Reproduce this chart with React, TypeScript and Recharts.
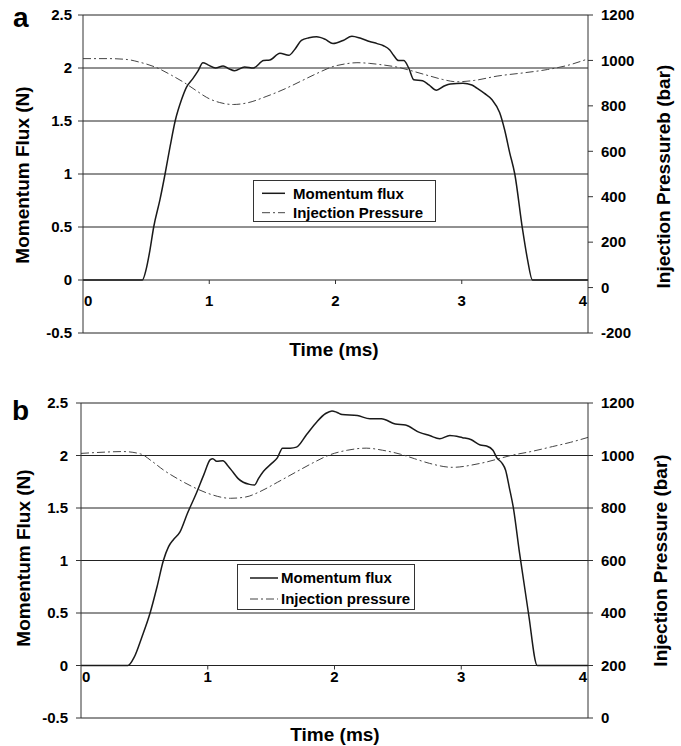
import React from 'react';
import { ComposedChart, Line, XAxis, YAxis, CartesianGrid, Legend } from 'recharts';

// ---------- data ----------
const timeTicks = [0, 1, 2, 3, 4];
const fluxTicks = [-0.5, 0, 0.5, 1, 1.5, 2, 2.5];
const pressureTicksA = [-200, 0, 200, 400, 600, 800, 1000, 1200];
const pressureTicksB = [0, 200, 400, 600, 800, 1000, 1200];

const fluxTimeA = [0, 0.47, 0.5, 0.53, 0.56, 0.61, 0.65, 0.69, 0.73, 0.78, 0.82, 0.87, 0.91, 0.95, 0.99, 1.05, 1.11, 1.16, 1.2, 1.28, 1.35, 1.43, 1.48, 1.56, 1.63, 1.68, 1.73, 1.79, 1.85, 1.92, 1.98, 2.06, 2.13, 2.2, 2.27, 2.33, 2.38, 2.43, 2.46, 2.5, 2.54, 2.58, 2.62, 2.69, 2.74, 2.8, 2.86, 2.91, 3.01, 3.08, 3.12, 3.18, 3.24, 3.3, 3.34, 3.38, 3.42, 3.48, 3.52, 3.56, 4];
const fluxValuesA = [0, 0, 0.1, 0.28, 0.5, 0.76, 1.0, 1.26, 1.5, 1.7, 1.82, 1.9, 1.97, 2.05, 2.03, 2.0, 2.02, 1.99, 1.975, 2.01, 2.0, 2.07, 2.075, 2.14, 2.12, 2.18, 2.26, 2.285, 2.295, 2.27, 2.23, 2.26, 2.3, 2.28, 2.25, 2.23, 2.21, 2.17, 2.12, 2.07, 2.07, 2.0, 1.89, 1.88, 1.84, 1.79, 1.83, 1.85, 1.855, 1.84, 1.81, 1.76, 1.7, 1.58, 1.415, 1.2, 1.0, 0.49, 0.2, 0, 0];

const pressureTimeA = [0, 0.2, 0.35, 0.45, 0.58, 0.7, 0.8, 0.9, 0.98, 1.08, 1.19, 1.3, 1.45, 1.6, 1.72, 1.85, 1.98, 2.08, 2.17, 2.27, 2.35, 2.51, 2.63, 2.75, 2.85, 2.96, 3.1, 3.28, 3.5, 3.68, 3.85, 4.0];
const pressureValuesA = [1008, 1008, 1004, 992, 969, 935, 903, 866, 837, 815, 806, 813, 841, 875, 907, 942, 973, 985, 990, 987, 982, 968, 950, 931, 916, 906, 912, 931, 946, 960, 980, 1007];

const fluxTimeB = [0, 0.37, 0.42, 0.48, 0.545, 0.6, 0.65, 0.69, 0.73, 0.78, 0.84, 0.91, 0.97, 1.02, 1.04, 1.07, 1.12, 1.16, 1.2, 1.24, 1.28, 1.33, 1.37, 1.4, 1.44, 1.5, 1.55, 1.59, 1.65, 1.7, 1.78, 1.86, 1.93, 1.98, 2.02, 2.06, 2.18, 2.28, 2.37, 2.48, 2.56, 2.67, 2.75, 2.83, 2.91, 3.01, 3.08, 3.15, 3.2, 3.25, 3.28, 3.32, 3.35, 3.38, 3.41, 3.46, 3.53, 3.6, 4];
const fluxValuesB = [0, 0, 0.08, 0.27, 0.5, 0.75, 1.0, 1.13, 1.2, 1.27, 1.45, 1.64, 1.82, 1.96, 1.97, 1.945, 1.95, 1.9, 1.84, 1.78, 1.745, 1.725, 1.72, 1.78, 1.85, 1.92, 1.98, 2.07, 2.07, 2.08, 2.2, 2.32, 2.4, 2.425, 2.41, 2.39, 2.38, 2.35, 2.35, 2.3, 2.29, 2.22, 2.19, 2.16, 2.19, 2.17, 2.15, 2.1, 2.09, 2.05, 1.98, 1.93, 1.86, 1.69, 1.51, 1.07, 0.5, 0, 0];

const pressureTimeB = [0, 0.15, 0.33, 0.47, 0.56, 0.65, 0.76, 0.88, 1.0, 1.18, 1.3, 1.41, 1.55, 1.7, 1.83, 1.96, 2.1, 2.25, 2.38, 2.52, 2.63, 2.75, 2.93, 3.15, 3.41, 3.55, 3.72, 3.86, 4.0];
const pressureValuesB = [1008, 1012, 1015, 1006, 978, 945, 912, 881, 856, 837, 842, 862, 898, 938, 972, 1002, 1020, 1028, 1020, 1005, 988, 970, 955, 970, 1002, 1015, 1034, 1050, 1069];

const zip = (t: number[], v: number[], key: string) => t.map((x, i) => ({ t: x, [key]: v[i] }));

// ---------- styles ----------
const FONT = '"Liberation Sans", Arial, Helvetica, sans-serif';
const tickCss: React.CSSProperties = { fontSize: 15, fontWeight: 700, fontFamily: FONT };
const tickStyle = { fontSize: 15, fontWeight: 700, fill: '#000', fontFamily: FONT, style: tickCss };
const titleStyle: React.CSSProperties = { fontSize: 19, fontWeight: 700, fontFamily: FONT };
const AXIS = '#333';

const makeTimeTick = (zeroY: number, labelDy: number) => (props: any) => {
  const { x, payload } = props;
  const v = payload.value;
  const anchor = v === 0 ? 'start' : v === 4 ? 'end' : 'middle';
  const tx = v === 0 ? x + 1 : v === 4 ? x - 1 : x;
  return (
    <g>
      {v > 0 && v < 4 && <line x1={x} x2={x} y1={zeroY} y2={zeroY + 4} stroke={AXIS} strokeWidth={1} />}
      <text x={tx} y={zeroY + labelDy} textAnchor={anchor} fill="#000" style={tickCss}>{v}</text>
    </g>
  );
};

const legendText: React.CSSProperties = { fontSize: 15, fontWeight: 700, fontFamily: FONT };

const LegendBox = ({ w, h, rows, x1, x2, tx, names }: any) => (
  <svg width={w} height={h} style={{ display: 'block' }}>
    <rect x={0.5} y={0.5} width={w - 1} height={h - 1} fill="#fff" stroke={AXIS} strokeWidth={1} />
    <line x1={x1} x2={x2} y1={rows[0]} y2={rows[0]} stroke="#1a1a1a" strokeWidth={1.5} />
    <line x1={x1} x2={x2} y1={rows[1]} y2={rows[1]} stroke="#444" strokeWidth={1} strokeDasharray="8 3 2 3" />
    <text x={tx} y={rows[0] + 5.4} fill="#000" style={legendText}>{names[0]}</text>
    <text x={tx} y={rows[1] + 5.4} fill="#000" style={legendText}>{names[1]}</text>
  </svg>
);

type PanelProps = {
  letter: string;
  height: number;
  top: number;
  leftW: number;
  xAxisH: number;
  fluxData: any[];
  pressureData: any[];
  pDomain: [number, number];
  pTicks: number[];
  pressureName: string;
  rightTitle: string;
  legend: any;
  labelDy: number;
  titles: { left: [number, number]; right: [number, number]; time: [number, number]; letterPos: [number, number] };
  leftTickMargin: number;
};

const Panel = (p: PanelProps) => {
  const plotH = p.height - p.top - p.xAxisH;
  const zeroY = p.top + (plotH * 2.5) / 3;
  return (
    <ComposedChart width={681} height={p.height} margin={{ top: p.top, right: 0, bottom: 0, left: 0 }}>
      <CartesianGrid vertical={false} horizontal={true} stroke="#222" strokeWidth={1} />
      <XAxis
        type="number"
        dataKey="t"
        domain={[0, 4]}
        ticks={timeTicks}
        allowDataOverflow
        axisLine={false}
        tickLine={false}
        height={p.xAxisH}
        tick={makeTimeTick(zeroY, p.labelDy)}
        interval={0}
      />
      <YAxis
        type="number"
        domain={[-0.5, 2.5]}
        ticks={fluxTicks}
        width={p.leftW}
        axisLine={{ stroke: AXIS, strokeWidth: 1 }}
        tickLine={{ stroke: AXIS, strokeWidth: 1 }}
        tickSize={5}
        tickMargin={p.leftTickMargin}
        tick={tickStyle}
        interval={0}
      />
      <YAxis
        yAxisId="right"
        orientation="right"
        type="number"
        domain={p.pDomain}
        ticks={p.pTicks}
        width={93}
        axisLine={{ stroke: AXIS, strokeWidth: 1 }}
        tickLine={{ stroke: AXIS, strokeWidth: 1 }}
        tickSize={5}
        tickMargin={8}
        tick={tickStyle}
        interval={0}
      />
      <Line
        data={p.pressureData}
        dataKey="pressure"
        name={p.pressureName}
        yAxisId="right"
        type="monotone"
        stroke="#444"
        strokeWidth={1}
        strokeDasharray="8 3 2 3"
        dot={false}
        activeDot={false}
        isAnimationActive={false}
      />
      <Line
        data={p.fluxData}
        dataKey="flux"
        name="Momentum flux"
        type="monotone"
        stroke="#1a1a1a"
        strokeWidth={1.5}
        dot={false}
        activeDot={false}
        isAnimationActive={false}
      />
      <Legend
        layout="vertical"
        align="center"
        verticalAlign="middle"
        wrapperStyle={{ position: 'absolute', left: p.legend.left, top: p.legend.top, width: p.legend.w, height: p.legend.h }}
        content={() => <LegendBox {...p.legend} names={['Momentum flux', p.pressureName]} />}
      />
      <text x={p.titles.letterPos[0]} y={p.titles.letterPos[1]} fill="#000" style={{ fontSize: 28, fontWeight: 700, fontFamily: FONT }}>{p.letter}</text>
      <text
        x={p.titles.left[0]}
        y={p.titles.left[1]}
        transform={`rotate(-90, ${p.titles.left[0]}, ${p.titles.left[1]})`}
        textAnchor="middle"
        dominantBaseline="central"
        style={titleStyle}
        fill="#000"
      >
        Momentum Flux (N)
      </text>
      <text
        x={p.titles.right[0]}
        y={p.titles.right[1]}
        transform={`rotate(-90, ${p.titles.right[0]}, ${p.titles.right[1]})`}
        textAnchor="middle"
        dominantBaseline="central"
        style={titleStyle}
        fill="#000"
      >
        {p.rightTitle}
      </text>
      <text x={p.titles.time[0]} y={p.titles.time[1]} textAnchor="middle" dominantBaseline="central" style={titleStyle} fill="#000">
        Time (ms)
      </text>
    </ComposedChart>
  );
};

export default function App() {
  const fluxA = zip(fluxTimeA, fluxValuesA, 'flux');
  const presA = zip(pressureTimeA, pressureValuesA, 'pressure');
  const fluxB = zip(fluxTimeB, fluxValuesB, 'flux');
  const presB = zip(pressureTimeB, pressureValuesB, 'pressure');
  return (
    <div style={{ position: 'absolute', left: 0, top: 0, width: 681, height: 746, background: '#fff', fontFamily: FONT, fontWeight: 700 }}>
      <div style={{ position: 'absolute', left: 0, top: 0 }}>
        <Panel
          letter="a"
          height={370}
          top={15}
          leftW={83}
          xAxisH={37}
          fluxData={fluxA}
          pressureData={presA}
          pDomain={[-200, 1200]}
          pTicks={pressureTicksA}
          pressureName="Injection Pressure"
          rightTitle="Injection Pressureb (bar)"
          legend={{ left: 253, top: 180, w: 183, h: 42, rows: [13.3, 32.7], x1: 9, x2: 32, tx: 40 }}
          labelDy={26}
          leftTickMargin={6}
          titles={{ left: [22, 175], right: [663, 176.5], time: [334, 349], letterPos: [13, 27] }}
        />
      </div>
      <div style={{ position: 'absolute', left: 0, top: 385 }}>
        <Panel
          letter="b"
          height={361}
          top={18}
          leftW={81}
          xAxisH={28}
          fluxData={fluxB}
          pressureData={presB}
          pDomain={[0, 1200]}
          pTicks={pressureTicksB}
          pressureName="Injection pressure"
          rightTitle="Injection Pressure (bar)"
          legend={{ left: 237, top: 179, w: 178, h: 46, rows: [14, 35], x1: 13, x2: 41, tx: 44 }}
          labelDy={16.5}
          leftTickMargin={8}
          titles={{ left: [23, 173], right: [660, 175.5], time: [335, 349], letterPos: [12, 35] }}
        />
      </div>
    </div>
  );
}
